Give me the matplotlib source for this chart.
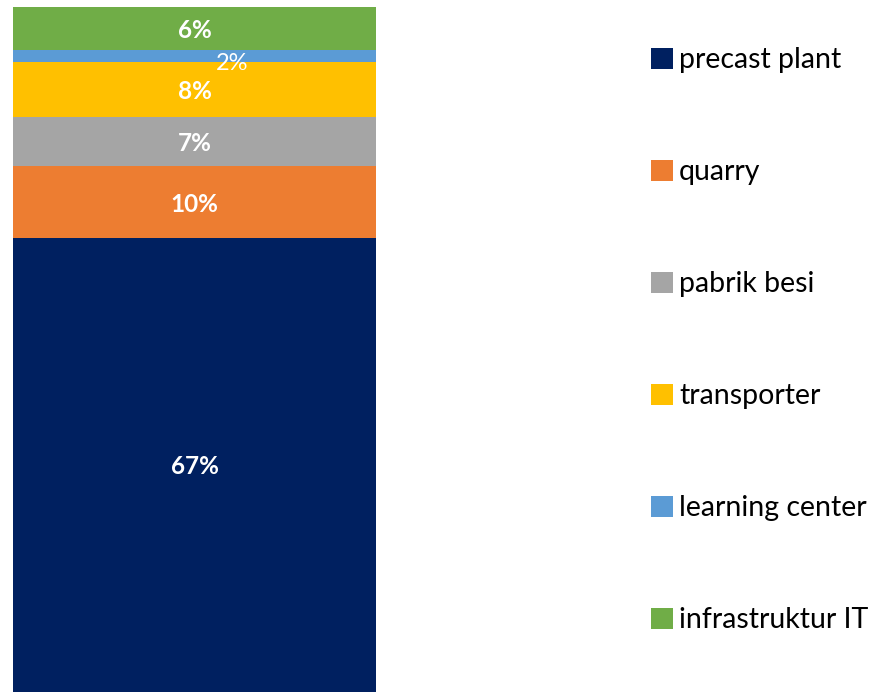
import matplotlib
matplotlib.use("Agg")
import matplotlib.pyplot as plt

categories = ["precast plant", "quarry", "pabrik besi", "transporter", "learning center", "infrastruktur IT"]
values = [66.4, 10.4, 7.2, 8.0, 1.8, 6.3]
labels = ["67%", "10%", "7%", "8%", "2%", "6%"]
colors = ["#002060", "#ED7D31", "#A5A5A5", "#FFC000", "#5B9BD5", "#70AD47"]

plt.rcParams['font.family'] = ['Lato', 'DejaVu Sans']

fig = plt.figure(figsize=(8.81, 6.92), dpi=100)
ax = fig.add_axes([13/881, 0, (376-13)/881, (692-7)/692])

bottom = 0
handles = []
for cat, v, lab, c in zip(categories, values, labels, colors):
    b = ax.bar(0, v, bottom=bottom, width=1.0, color=c, label=cat)
    handles.append(b)
    mid = bottom + v / 2
    if cat == "learning center":
        ax.annotate(lab, (0.105, mid), xytext=(0, -7), textcoords="offset pixels",
                    ha="center", va="center", color="white", fontsize=17)
    else:
        ax.annotate(lab, (0, mid), xytext=(0, -2), textcoords="offset pixels",
                    ha="center", va="center", color="white",
                    fontsize=17.5, fontweight="bold")
    bottom += v

ax.set_xlim(-0.5, 0.5)
ax.set_ylim(0, sum(values))
ax.axis("off")

leg = fig.legend(handles=handles, labels=categories, loc="upper left",
                 bbox_to_anchor=(640/881, 1 - 36/692), frameon=False,
                 fontsize=20.5, handlelength=0.75, handleheight=0.75,
                 handletextpad=0.22, labelspacing=3.02, borderaxespad=0)
plt.savefig("out.png", dpi=100)
